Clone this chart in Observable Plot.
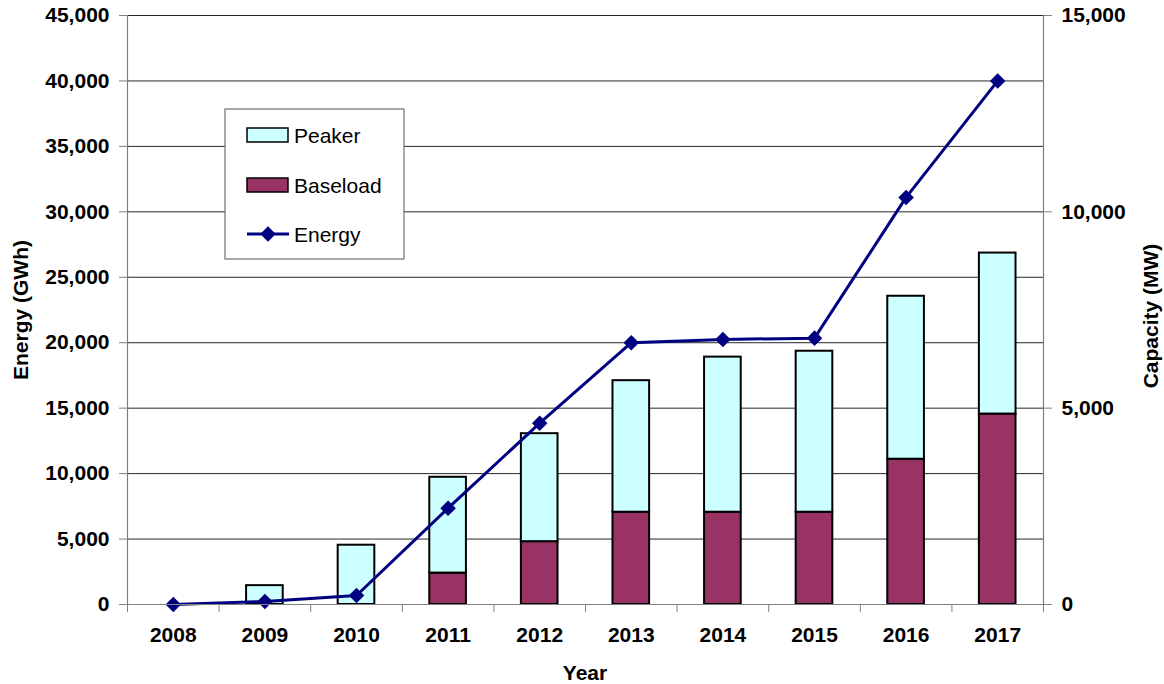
<!DOCTYPE html>
<html>
<head>
<meta charset="utf-8">
<script src="https://cdn.jsdelivr.net/npm/d3@7"></script>
<script src="https://cdn.jsdelivr.net/npm/@observablehq/plot@0.6"></script>
<style>
  html, body { margin: 0; padding: 0; background: #fff; }
  #chart { width: 1164px; height: 684px; }
</style>
</head>
<body>
<div id="chart"></div>
<script>
// ---- data ----
const years    = [2008, 2009, 2010, 2011, 2012, 2013, 2014, 2015, 2016, 2017];
const baseload = [0, 0, 0, 800, 1600, 2350, 2350, 2350, 3700, 4850];          // MW
const peaker   = [0, 480, 1510, 2440, 2750, 3350, 3950, 4100, 4150, 4100];    // MW
const energy   = [0, 230, 690, 7360, 13850, 20000, 20250, 20350, 31100, 40000]; // GWh
const leftTicks  = [0, 5000, 10000, 15000, 20000, 25000, 30000, 35000, 40000, 45000]; // GWh
const rightTicks = [0, 5000, 10000, 15000]; // MW
const energyMax = 45000, capacityMax = 15000;
const k = energyMax / capacityMax; // MW -> GWh-axis units

const rows = years.map((year, i) => ({year, baseload: baseload[i], peaker: peaker[i], energy: energy[i]}));
const bars = [];
rows.forEach(r => {
  bars.push({year: r.year, series: "Baseload", lo: 0, hi: r.baseload});
  bars.push({year: r.year, series: "Peaker", lo: r.baseload, hi: r.baseload + r.peaker});
});
const colors = {Peaker: "#CCFFFF", Baseload: "#993366"};
const fmt = d3.format(",");
const half = 0.5, barHalf = 0.2;
const FS = 21;

const plot = Plot.plot({
  width: 1164,
  height: 684,
  marginLeft: 127,
  marginRight: 121,
  marginTop: 15,
  marginBottom: 80,
  style: {fontFamily: "'Liberation Sans', Arial, sans-serif", fontSize: FS + "px", fontWeight: "bold", background: "#fff", color: "#000"},
  x: {type: "linear", domain: [years[0] - half, years[years.length - 1] + half]},
  y: {domain: [0, energyMax]},
  marks: [
    Plot.ruleY(leftTicks, {stroke: "#000", strokeWidth: 1, strokeOpacity: 0.85}),
    Plot.rectY(bars.filter(d => d.hi > d.lo), {
      x1: d => d.year - barHalf, x2: d => d.year + barHalf,
      y1: d => d.lo * k, y2: d => d.hi * k,
      fill: d => colors[d.series], stroke: "#000", strokeWidth: 2
    }),
    Plot.line(rows, {x: "year", y: "energy", stroke: "#000080", strokeWidth: 3}),
    Plot.dot(rows, {x: "year", y: "energy", symbol: "diamond2", r: 7, fill: "#000080", stroke: "none"}),
    Plot.ruleX([years[0] - half, years[years.length - 1] + half], {stroke: "#808080", strokeWidth: 1.2}),
    Plot.ruleY([0], {stroke: "#808080", strokeWidth: 1.2}),
    Plot.axisY({anchor: "left", ticks: leftTicks, tickFormat: fmt, tickSize: 8, tickPadding: 10, label: null, stroke: "#808080", fontSize: FS, fontWeight: "bold", fill: "#000"}),
    Plot.axisY({anchor: "right", ticks: rightTicks.map(v => v * k), tickFormat: v => fmt(v / k), tickSize: 8, tickPadding: 10, label: null, stroke: "#808080", fontSize: FS, fontWeight: "bold", fill: "#000"}),
    Plot.axisX({ticks: years.concat([years[years.length - 1] + 1]).map(y => y - half), tickFormat: () => "", tickSize: 8, label: null, stroke: "#808080"}),
    Plot.axisX({ticks: years, tickFormat: d => String(d), tickSize: 0, tickPadding: 23, label: null, fontSize: FS, fontWeight: "bold", fill: "#000"})
  ]
});
document.getElementById("chart").appendChild(plot);

// ---- axis titles and legend ----
const svg = d3.select(plot);
const title = (txt, x, y, rot) => svg.append("text")
  .attr("transform", `translate(${x},${y}) rotate(${rot})`)
  .attr("text-anchor", "middle").attr("dominant-baseline", "central")
  .style("font-size", FS + "px").style("font-weight", "bold").text(txt);
title("Energy (GWh)", 20, 310, -90);
title("Capacity (MW)", 1150, 316, -90);
title("Year", 585, 672, 0);

const lg = svg.append("g").style("font-weight", "normal").style("font-size", FS + "px");
lg.append("rect").attr("x", 225).attr("y", 109).attr("width", 179).attr("height", 150)
  .attr("fill", "#fff").attr("stroke", "#707070").attr("stroke-width", 1.2);
const items = [
  {name: "Peaker", type: "rect", y: 135},
  {name: "Baseload", type: "rect", y: 185},
  {name: "Energy", type: "line", y: 234}
];
items.forEach(it => {
  if (it.type === "rect") {
    lg.append("rect").attr("x", 247).attr("y", it.y - 7).attr("width", 41).attr("height", 14)
      .attr("fill", colors[it.name]).attr("stroke", "#000").attr("stroke-width", 1.5);
  } else {
    lg.append("line").attr("x1", 247).attr("x2", 289).attr("y1", it.y).attr("y2", it.y)
      .attr("stroke", "#000080").attr("stroke-width", 3);
    lg.append("path").attr("d", d3.symbol(d3.symbolDiamond2, Math.PI * 49)())
      .attr("transform", `translate(268,${it.y})`).attr("fill", "#000080");
  }
  lg.append("text").attr("x", 294).attr("y", it.y).attr("text-anchor", "start")
    .attr("dominant-baseline", "central").text(it.name);
});
</script>
</body>
</html>
